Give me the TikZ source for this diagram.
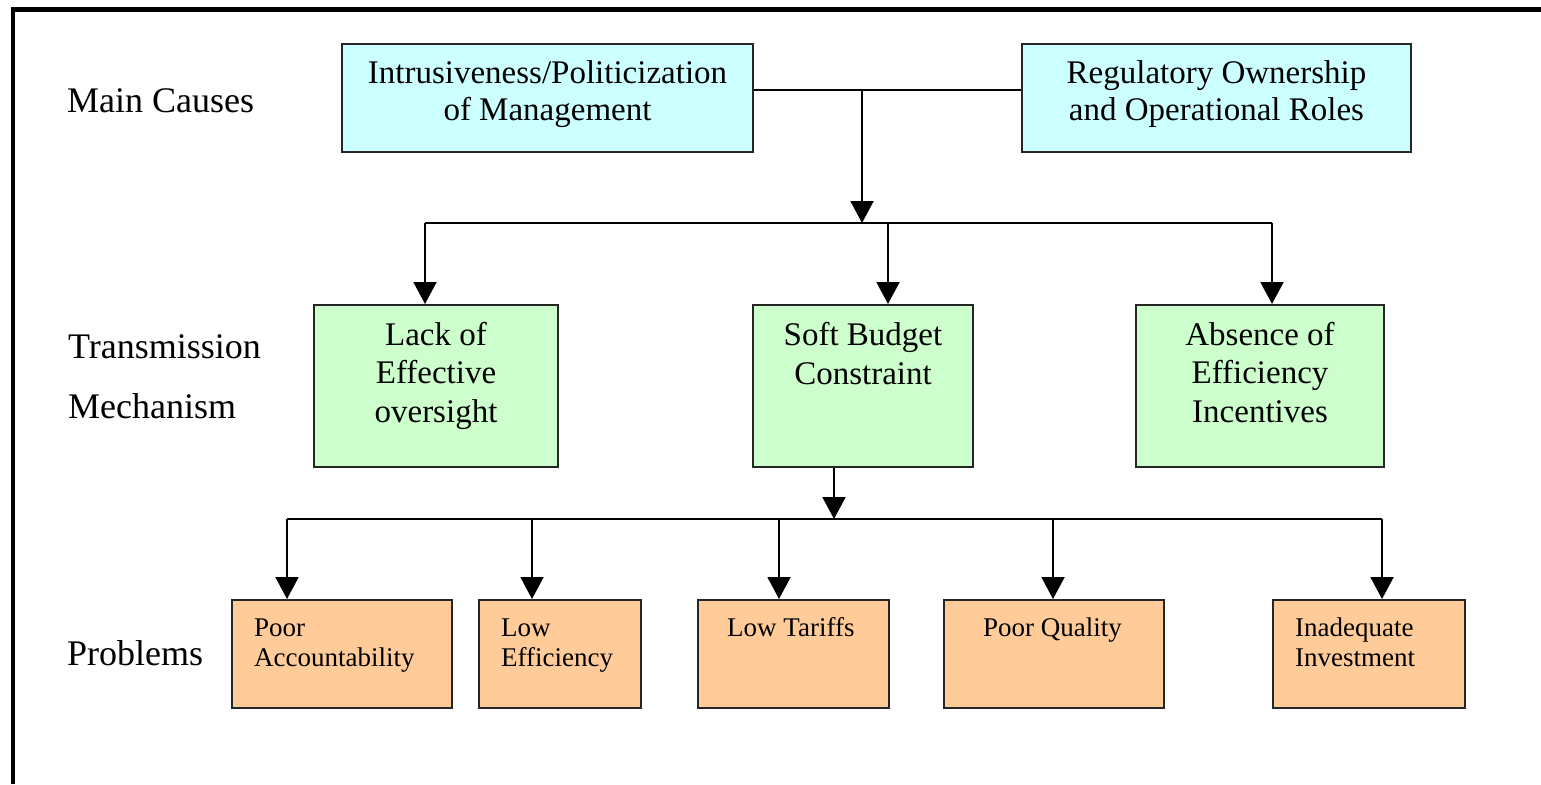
\documentclass[tikz,border=0pt]{standalone}
\usepackage{fontspec}
\setmainfont{Liberation Serif}
\usetikzlibrary{arrows.meta}
\definecolor{cyanbox}{HTML}{CCFFFF}
\definecolor{greenbox}{HTML}{CCFFCC}
\definecolor{orangebox}{HTML}{FFCC99}
\begin{document}
\begin{tikzpicture}[x=1pt,y=-1pt,
  box/.style={draw=black!85, line width=2pt, inner sep=0pt, anchor=north west},
  cbox/.style={box, fill=cyanbox},
  gbox/.style={box, fill=greenbox},
  obox/.style={box, fill=orangebox},
  ctext/.style={inner sep=0pt, align=center, anchor=base, font=\fontsize{33pt}{36pt}\selectfont},
  gtext/.style={inner sep=0pt, align=center, anchor=base, font=\fontsize{33pt}{38.5pt}\selectfont},
  otext/.style={inner sep=0pt, align=left, anchor=base west, font=\fontsize{27pt}{30pt}\selectfont},
  ltext/.style={inner sep=0pt, align=left, anchor=base west, font=\fontsize{36pt}{60pt}\selectfont},
  conn/.style={line width=2pt, black},
  arr/.style={conn, -{Triangle[width=23pt,length=22pt]}}
]
\useasboundingbox (0,0) rectangle (1541,784);
\fill[white] (0,0) rectangle (1541,784);
\draw[line width=4.5pt] (13,784) -- (13,9.5) -- (1541,9.5);

% row labels (anchor = baseline of last line)
\node[ltext] (lab1) at (67,112) {Main Causes};
\node[ltext] (lab2) at (68,418) {Transmission\\Mechanism};
\node[ltext] (lab3) at (67,665) {Problems};

% main causes
\node[cbox, minimum width=411pt, minimum height=108pt] (c1) at (341,43) {};
\node[ctext] (c1t) at ([yshift=-77pt]c1.north) {Intrusiveness/Politicization\\of Management};
\node[cbox, minimum width=389pt, minimum height=108pt] (c2) at (1021,43) {};
\node[ctext] (c2t) at ([yshift=-77pt]c2.north) {Regulatory Ownership\\and Operational Roles};

% transmission mechanism
\node[gbox, minimum width=244pt, minimum height=162pt] (m1) at (313,304) {};
\node[gtext] (m1t) at ([yshift=-118pt]m1.north) {Lack of\\Effective\\oversight};
\node[gbox, minimum width=220pt, minimum height=162pt] (m2) at (752,304) {};
\node[gtext] (m2t) at ([yshift=-80pt]m2.north) {Soft Budget\\Constraint};
\node[gbox, minimum width=248pt, minimum height=162pt] (m3) at (1135,304) {};
\node[gtext] (m3t) at ([yshift=-118pt]m3.north) {Absence of\\Efficiency\\Incentives};

% problems
\node[obox, minimum width=220pt, minimum height=108pt] (p1) at (231,599) {};
\node[otext] (p1t) at (254,666) {Poor\\Accountability};
\node[obox, minimum width=162pt, minimum height=108pt] (p2) at (478,599) {};
\node[otext] (p2t) at (501,666) {Low\\Efficiency};
\node[obox, minimum width=191pt, minimum height=108pt] (p3) at (697,599) {};
\node[otext] (p3t) at (727,636) {Low Tariffs};
\node[obox, minimum width=220pt, minimum height=108pt] (p4) at (943,599) {};
\node[otext] (p4t) at (983,636) {Poor Quality};
\node[obox, minimum width=192pt, minimum height=108pt] (p5) at (1272,599) {};
\node[otext] (p5t) at (1295,666) {Inadequate\\Investment};

% connectors: causes -> mechanisms
\coordinate (j0) at (862,90);
\coordinate (j1) at (862,223);
\coordinate (h1a) at (425,223);
\coordinate (h1b) at (888,223);
\coordinate (h1c) at (1272,223);
\draw[conn] (c1.east |- j0) -- (c2.west |- j0);
\draw[arr] (j0) -- (j1);
\draw[conn] (h1a) -- (h1c);
\draw[arr] (h1a) -- (h1a |- m1.north);
\draw[arr] (h1b) -- (h1b |- m2.north);
\draw[arr] (h1c) -- (h1c |- m3.north);

% connectors: soft budget -> problems
\coordinate (j2) at (834,519);
\coordinate (h2a) at (287,519);
\coordinate (h2b) at (532,519);
\coordinate (h2c) at (779,519);
\coordinate (h2d) at (1053,519);
\coordinate (h2e) at (1382,519);
\draw[arr] (m2.south -| j2) -- (j2);
\draw[conn] (h2a) -- (h2e);
\draw[arr] (h2a) -- (h2a |- p1.north);
\draw[arr] (h2b) -- (h2b |- p2.north);
\draw[arr] (h2c) -- (h2c |- p3.north);
\draw[arr] (h2d) -- (h2d |- p4.north);
\draw[arr] (h2e) -- (h2e |- p5.north);
\end{tikzpicture}
\end{document}
